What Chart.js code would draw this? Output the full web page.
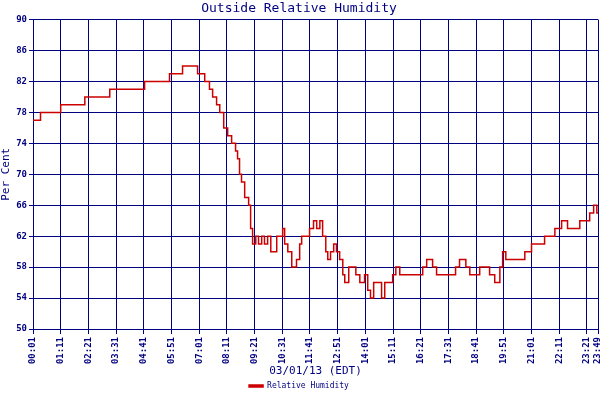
<!DOCTYPE html>
<html><head><script src="https://cdn.jsdelivr.net/npm/chart.js@4"></script>
<style>body{margin:0;background:#fff}#w{width:600px;height:400px}</style></head>
<body><div id="w"><canvas id="c"></canvas></div>
<script>
const minutes=[1,20,71,132,195,283,346,379,417,435,447,455,465,473,483,493,503,513,518,523,528,536,546,551,556,564,571,579,586,594,602,617,632,637,645,655,667,675,680,700,710,718,726,733,741,746,753,761,768,776,784,789,799,806,817,827,839,847,854,862,875,882,890,900,910,918,928,978,986,996,1011,1021,1054,1069,1079,1095,1105,1130,1155,1168,1181,1188,1196,1231,1244,1261,1294,1320,1337,1352,1383,1408,1418,1426,1429];
const humidity=[77,78,79,80,81,82,83,84,83,82,81,80,79,78,76,75,74,73,72,70,69,67,66,63,61,62,61,62,61,62,60,62,63,61,60,58,59,61,62,63,64,63,64,62,60,59,60,61,60,59,57,56,58,58,57,56,57,55,54,56,56,54,56,56,57,58,57,57,58,59,58,57,57,58,59,58,57,58,57,56,58,60,59,59,60,61,62,63,64,63,64,65,66,65,65];
const tickMinutes=[1,71,141,211,281,351,421,491,561,631,701,771,841,911,981,1051,1121,1191,1261,1331,1401,1429];
const tickLabels=["00:01","01:11","02:21","03:31","04:41","05:51","07:01","08:11","09:21","10:31","11:41","12:51","14:01","15:11","16:21","17:31","18:41","19:51","21:01","22:11","23:21","23:49"];
const yTicks=[50,54,58,62,66,70,74,78,82,86,90];
const navy='#000080';
const font={family:'DejaVu Sans Mono',size:9,weight:'bold'};
new Chart(document.getElementById('c'),{type:'line',
data:{datasets:[{label:'Relative Humidity',data:minutes.map((m,i)=>({x:m,y:humidity[i]})),borderColor:'#cc0000',backgroundColor:'#cc0000',borderWidth:1.5,stepped:true,pointRadius:0}]},
options:{responsive:true,maintainAspectRatio:false,animation:false,
layout:{padding:{top:0,right:2,left:0,bottom:0}},
plugins:{title:{display:true,text:'Outside Relative Humidity',color:navy,font:{family:'DejaVu Sans Mono',size:13,weight:'normal'},padding:{top:1,bottom:3}},
legend:{position:'bottom',labels:{color:navy,font:{family:'DejaVu Sans Mono',size:8},boxWidth:14,boxHeight:2,padding:4}},tooltip:{enabled:false}},
scales:{
x:{type:'linear',min:1,max:1429,afterBuildTicks:s=>{s.ticks=tickMinutes.map(v=>({value:v}))},
afterFit:s=>{s.height=49;s.paddingRight=0;s.paddingLeft=0},
ticks:{autoSkip:false,maxRotation:90,minRotation:90,color:navy,font,callback:(v,i)=>tickLabels[i]},
grid:{color:navy,lineWidth:1,tickLength:5,tickColor:navy},border:{color:navy},
title:{display:true,text:'03/01/13 (EDT)',color:navy,font:{family:'DejaVu Sans Mono',size:11},padding:{top:2,bottom:0}}},
y:{min:50,max:90,afterBuildTicks:s=>{s.ticks=yTicks.map(v=>({value:v}))},afterFit:s=>{s.width=33},
ticks:{color:navy,font,padding:2},grid:{color:navy,lineWidth:1,tickLength:4,tickColor:navy},border:{color:navy},
title:{display:true,text:'Per Cent',color:navy,font:{family:'DejaVu Sans Mono',size:11},padding:0}}}}});
</script></body></html>
